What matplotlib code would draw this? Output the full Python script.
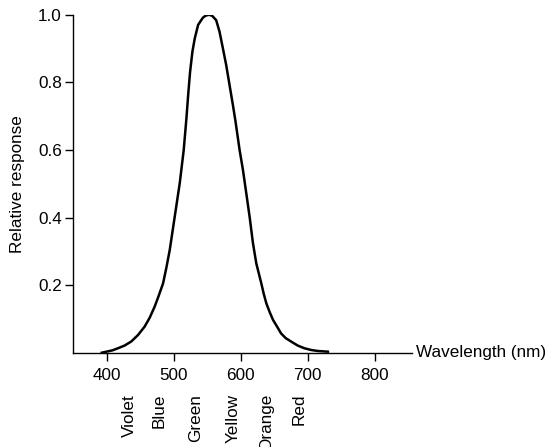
import matplotlib
matplotlib.use("Agg")
import matplotlib.pyplot as plt

plt.rcParams['font.family'] = ['Liberation Sans', 'DejaVu Sans']

# curve
wavelength = [392, 399, 408, 416, 426, 436, 446, 456, 463.5, 471, 477, 483.6, 488.6,
              493.6, 501, 508.5, 514.5, 518.5, 521.5, 524, 527.5, 531, 536, 543, 547,
              552, 557, 563, 568, 573, 578, 583, 588, 592, 598, 603, 608, 613, 618,
              623, 630.5, 634, 638, 643, 648, 655, 660, 667, 675, 685, 695, 705, 715, 730]
response = [0.0, 0.003, 0.007, 0.013, 0.021, 0.033, 0.052, 0.077, 0.103, 0.136, 0.168,
            0.205, 0.252, 0.304, 0.402, 0.501, 0.600, 0.693, 0.772, 0.831, 0.891, 0.930,
            0.970, 0.991, 0.997, 1.0, 0.997, 0.984, 0.950, 0.901, 0.851, 0.792, 0.733,
            0.683, 0.600, 0.541, 0.472, 0.402, 0.324, 0.264, 0.205, 0.175, 0.146,
            0.120, 0.097, 0.074, 0.057, 0.043, 0.033, 0.021, 0.013, 0.008, 0.005, 0.003]

xticks = [400, 500, 600, 700, 800]
yticks = [0.2, 0.4, 0.6, 0.8, 1.0]
colour_names = ["Violet", "Blue", "Green", "Yellow", "Orange", "Red"]
colour_pos = [434, 478, 533, 588, 639, 687]

fig = plt.figure(figsize=(5.47, 4.47), dpi=100)
ax = fig.add_axes([0.1335, 0.211, 0.62, 0.756])

ax.plot(wavelength, response, color="black", lw=1.8, solid_joinstyle='round')

ax.set_xlim(349, 856)
ax.set_ylim(0, 1.0)
ax.spines['top'].set_visible(False)
ax.spines['right'].set_visible(False)
for s in ['left', 'bottom']:
    ax.spines[s].set_linewidth(1.0)

ax.set_xticks(xticks)
ax.set_xticklabels([str(v) for v in xticks])
ax.set_yticks(yticks)
ax.set_yticklabels(["%.1f" % v for v in yticks])
ax.tick_params(axis='both', direction='out', length=6, width=1.0, labelsize=12.3)
ax.tick_params(axis='x', pad=5)
ax.tick_params(axis='y', pad=2)

ax.set_ylabel("Relative response", fontsize=12.3)
ax.yaxis.set_label_coords(-0.142, 0.5)

ax.text(862, 0, "Wavelength (nm)", fontsize=12.3, ha='left', va='center', clip_on=False)

# colour names under the axis; Orange runs off the bottom as in the original
for name, pos in zip(colour_names, colour_pos):
    ax.text(pos, -0.122, name, rotation=90, fontsize=12.3, ha='center', va='top', clip_on=False)

fig.savefig("out.png", dpi=100)
